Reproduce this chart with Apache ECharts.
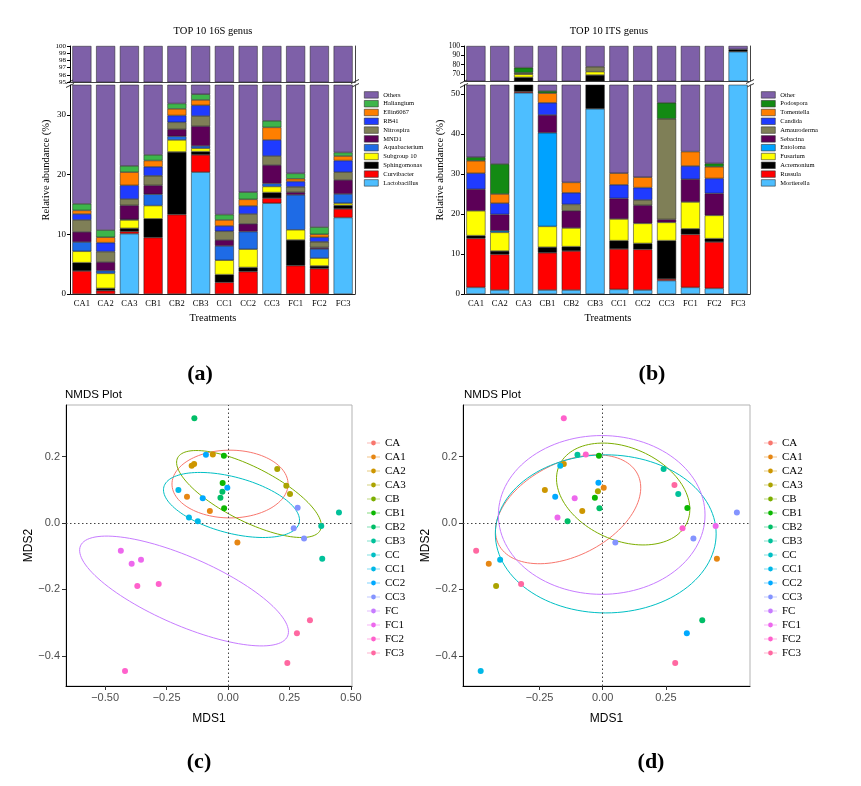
<!DOCTYPE html>
<html><head><meta charset="utf-8">
<script src="https://cdn.jsdelivr.net/npm/echarts@6/dist/echarts.min.js"></script>
<style>html,body{margin:0;padding:0;background:#fff}#main{width:861px;height:786px}</style>
</head><body><div id="main"></div>
<script>
// ---------------- DATA ----------------
const treatments = ['CA1','CA2','CA3','CB1','CB2','CB3','CC1','CC2','CC3','FC1','FC2','FC3'];

// 16S genera (relative abundance %, stacked bottom -> top)
const lactobacillus = [0, 0, 10.1, 0, 0, 20.4, 0, 0, 15.2, 0, 0, 12.8];
const curvibacter   = [3.85, 0.55, 0.35, 9.45, 13.3, 2.9, 1.95, 3.75, 0.85, 4.75, 4.25, 1.45];
const sphingomonas  = [1.4, 0.4, 0.55, 3.15, 10.5, 0.55, 1.3, 0.7, 0.95, 4.3, 0.45, 0.6];
const subgroup10    = [1.9, 2.5, 1.4, 2.2, 2.0, 0.55, 2.4, 3.05, 1.0, 1.7, 1.3, 0.35];
const aquabacterium = [1.55, 0.45, 0.1, 1.9, 0.6, 0.4, 2.4, 2.95, 0.5, 5.85, 1.55, 1.55];
const mnd1          = [1.7, 1.45, 2.35, 1.5, 1.2, 3.3, 1.0, 1.3, 3.1, 0.45, 0.25, 2.35];
const nitrospira    = [2.0, 1.75, 1.05, 1.6, 1.15, 1.7, 1.45, 1.65, 1.5, 0.9, 0.95, 1.3];
const rb41          = [1.0, 1.5, 2.3, 1.5, 1.15, 1.8, 0.9, 1.35, 2.7, 0.9, 0.75, 1.95];
const ellin6067     = [0.6, 0.9, 2.2, 1.05, 1.1, 0.9, 1.0, 1.1, 2.1, 0.45, 0.5, 0.75];
const haliangium    = [1.1, 1.2, 1.05, 0.95, 0.9, 0.95, 0.9, 1.2, 1.1, 0.9, 1.2, 0.6];
const others16S     = [84.9, 89.3, 78.55, 76.7, 68.1, 66.55, 86.7, 82.95, 71.0, 79.8, 88.8, 76.3];
const genera16S = ['Lactobacillus','Curvibacter','Sphingomonas','Subgroup 10','Aquabacterium','MND1','Nitrospira','RB41','Ellin6067','Haliangium','Others'];
const colors16S = ['#4DBEFF','#FF0000','#000000','#FFFF00','#1E6BE6','#5C0057','#7F7F57','#1F3BFF','#FF7F00','#3DB54A','#7E60A8'];

// ITS genera
const mortierella = [1.65, 1.0, 50.3, 1.0, 1.0, 46.3, 1.15, 1.0, 3.35, 1.65, 1.4, 93.9];
const russula     = [12.25, 8.9, 0.3, 9.3, 9.75, 0, 10.1, 10.15, 0.4, 13.25, 11.6, 0];
const acremonium  = [0.7, 0.85, 15.8, 1.4, 1.1, 22.6, 2.1, 1.5, 9.6, 1.4, 0.85, 2.5];
const fusarium    = [6.2, 4.65, 3.3, 5.2, 4.65, 3.6, 5.4, 5.0, 4.55, 6.7, 5.8, 0];
const entoloma    = [0, 0.4, 0, 23.4, 0, 0, 0, 0, 0, 0, 0, 0];
const sebacina    = [5.4, 4.1, 0, 4.45, 4.3, 0, 5.15, 4.55, 0.75, 5.7, 5.5, 0];
const amauroderma = [0, 0, 1.7, 0, 1.6, 5.3, 0, 1.3, 25.15, 0, 0, 0];
const candida     = [4.0, 2.8, 0, 3.05, 2.9, 0, 3.4, 3.1, 0, 3.3, 3.75, 0];
const tomentella  = [3.1, 2.3, 0, 2.4, 2.6, 0, 2.9, 2.6, 0, 3.6, 2.9, 0];
const podospora   = [0.9, 7.5, 5.4, 0.55, 0, 0, 0, 0, 4.0, 0, 0.85, 0];
const otherITS    = [65.8, 67.5, 23.2, 49.25, 72.1, 22.2, 69.8, 70.8, 52.2, 64.4, 67.35, 3.6];
const generaITS = ['Mortierella','Russula','Acremonium','Fusarium','Entoloma','Sebacina','Amauroderma','Candida','Tomentella','Podospora','Other'];
const colorsITS = ['#4DBEFF','#FF0000','#000000','#FFFF00','#00A2FF','#5C0057','#7F7F57','#1F3BFF','#FF7F00','#138A13','#7E60A8'];

// NMDS groups
const groupNames  = ['CA','CA1','CA2','CA3','CB','CB1','CB2','CB3','CC','CC1','CC2','CC3','FC','FC1','FC2','FC3'];
const groupColors = ['#F8766D','#E68613','#CD9600','#ABA300','#7CAE00','#0CB702','#00BE67','#00C19A','#00BFC4','#00B8E7','#00A9FF','#8494FF','#C77CFF','#ED68ED','#FF61CC','#FF68A1'];

// NMDS (c) points
const cGroup = ['CA1','CA1','CA1','CA2','CA2','CA2','CA3','CA3','CA3','CB1','CB1','CB1','CB2','CB2','CB2','CB3','CB3','CB3','CC1','CC1','CC1','CC2','CC2','CC2','CC3','CC3','CC3','FC1','FC1','FC1','FC2','FC2','FC2','FC3','FC3','FC3'];
const cX = [-0.167,-0.074,0.038, -0.062,-0.148,-0.138, 0.200,0.237,0.252, -0.017,-0.022,-0.016, -0.137,-0.023,-0.031, 0.451,0.379,0.383, -0.202,-0.159,-0.123, -0.090,-0.103,-0.003, 0.283,0.267,0.309, -0.436,-0.392,-0.354, -0.369,-0.282,-0.419, 0.333,0.280,0.241];
const cY = [0.079,0.036,-0.059, 0.206,0.172,0.177, 0.162,0.112,0.087, 0.202,0.120,0.044, 0.315,0.094,0.076, 0.031,-0.009,-0.108, 0.099,0.016,0.005, 0.205,0.074,0.106, 0.046,-0.016,-0.047, -0.084,-0.123,-0.111, -0.190,-0.184,-0.446, -0.293,-0.332,-0.422];
// NMDS (c) ellipses: centre + two conjugate semi-axis vectors
const ellGroups = ['CA','CB','CC','FC'];
const cEllCx = [0.008, 0.085, 0.014, -0.179];
const cEllCy = [0.117, 0.087, 0.054, -0.205];
const cEllUx = [0.236, 0.290, 0.275, 0.421];
const cEllUy = [0, -0.109, -0.0545, -0.136];
const cEllVx = [0, -0.050, -0.0295, -0.0553];
const cEllVy = [0.102, -0.0726, -0.0814, -0.094];

// NMDS (d) points
const dGroup = ['CA1','CA1','CA1','CA2','CA2','CA2','CA3','CA3','CB1','CB1','CB1','CB2','CB2','CB2','CB3','CB3','CB3','CC1','CC1','CC1','CC2','CC2','CC2','CC3','CC3','CC3','FC1','FC1','FC1','FC2','FC2','FC2','FC3','FC3','FC3','FC3'];
const dX = [0.004,0.452,-0.451, -0.154,-0.229,-0.081, -0.019,-0.422, -0.015,-0.031,0.335, -0.013,-0.139,0.394, -0.100,0.241,0.299, -0.168,-0.406,-0.483, -0.017,-0.188,0.333, 0.050,0.359,0.531, 0.447,-0.179,-0.111, -0.067,-0.154,0.316, 0.284,-0.501,-0.323,0.287];
const dY = [0.106,-0.108,-0.123, 0.177,0.099,0.036, 0.095,-0.190, 0.202,0.076,0.045, 0.044,0.005,-0.293, 0.205,0.162,0.087, 0.172,-0.111,-0.446, 0.121,0.079,-0.332, -0.059,-0.047,0.031, -0.009,0.016,0.074, 0.206,0.315,-0.016, 0.114,-0.084,-0.184,-0.422];
const dEllCx = [-0.137, 0.081, 0.012, -0.004];
const dEllCy = [0.041, 0.087, -0.033, 0.024];
const dEllUx = [0.275, 0.253, 0.437, 0.409];
const dEllUy = [0.106, -0.086, 0, 0];
const dEllVx = [0.084, -0.075, 0, 0];
const dEllVy = [-0.125, -0.127, 0.238, 0.239];

// tick values
const ticks16SUpper = [95,96,97,98,99,100];
const ticks16SLower = [0,10,20,30];
const ticksITSUpper = [70,80,90,100];
const ticksITSLower = [0,10,20,30,40,50];
const nmdsYTicks = [-0.4,-0.2,0,0.2];
const cXTicks = [-0.5,-0.25,0,0.25,0.5];
const dXTicks = [-0.25,0,0.25];

// ---------------- BUILD ----------------
const SERIF = '"Liberation Serif", "Times New Roman", serif';
const SANS = '"Liberation Sans", Arial, sans-serif';
const colorOf = g => groupColors[groupNames.indexOf(g)];
const fmt = (v, d) => (v < -1e-9 ? '\u2212' : '') + Math.abs(v).toFixed(d);

const vals16S = [lactobacillus,curvibacter,sphingomonas,subgroup10,aquabacterium,mnd1,nitrospira,rb41,ellin6067,haliangium,others16S];
const valsITS = [mortierella,russula,acremonium,fusarium,entoloma,sebacina,amauroderma,candida,tomentella,podospora,otherITS];

function barSeries(names, vals, colors, xi, yi, stack) {
  return names.map((n, i) => ({
    type: 'bar', name: n, stack: stack, xAxisIndex: xi, yAxisIndex: yi,
    data: vals[i].map(v => v > 0 ? v : null),
    barCategoryGap: '20%', clip: true,
    itemStyle: { color: colors[i], borderColor: '#1a1a1a', borderWidth: 0.5 },
    emphasis: { disabled: true }, z: 2
  }));
}
function scatterSeries(xs, ys, gs, xi, yi, withRef) {
  const out = [];
  groupNames.forEach((g, gi) => {
    const pts = [];
    gs.forEach((gg, k) => { if (gg === g) pts.push([xs[k], ys[k]]); });
    if (!pts.length) return;
    out.push({ type: 'scatter', name: g, xAxisIndex: xi, yAxisIndex: yi, data: pts,
      symbolSize: 6, itemStyle: { color: groupColors[gi], opacity: 1 }, z: 5, emphasis: { disabled: true } });
  });
  out[0].markLine = { silent: true, symbol: ['none','none'], label: { show: false },
    lineStyle: { type: [1.5, 2.5], color: '#444', width: 1 },
    data: [{ xAxis: 0 }, { yAxis: 0 }] };
  return out;
}
function ellipseSeries(cx, cy, ux, uy, vx, vy, xi, yi) {
  return ellGroups.map((g, i) => ({
    type: 'custom', name: g, xAxisIndex: xi, yAxisIndex: yi, z: 3,
    itemStyle: { color: colorOf(g) },
    data: [[cx[i], cy[i], ux[i], uy[i], vx[i], vy[i]]],
    encode: { x: 0, y: 1 },
    renderItem: (params, api) => {
      const c0 = api.value(0), c1 = api.value(1), u0 = api.value(2), u1 = api.value(3), v0 = api.value(4), v1 = api.value(5);
      const pts = [];
      for (let k = 0; k <= 120; k++) {
        const t = k / 120 * 2 * Math.PI;
        pts.push(api.coord([c0 + u0 * Math.cos(t) + v0 * Math.sin(t), c1 + u1 * Math.cos(t) + v1 * Math.sin(t)]));
      }
      return { type: 'polyline', shape: { points: pts }, style: { stroke: colorOf(g), fill: null, lineWidth: 1 } };
    }
  }));
}

const catAxis = (gi, pos, showLabels) => ({
  type: 'category', gridIndex: gi, data: treatments, position: pos,
  axisTick: { show: false },
  axisLabel: { show: showLabels, fontFamily: SERIF, fontSize: 8.5, color: '#000', margin: 5, interval: 0 },
  axisLine: { show: true, lineStyle: { color: pos === 'top' ? '#444' : '#222', width: 1 } },
  splitLine: { show: false }
});
const barValAxis = (gi, min, max, ticks, fs) => ({
  type: 'value', gridIndex: gi, min: min, max: max,
  axisLine: { show: true, lineStyle: { color: '#000', width: 1 } },
  axisTick: { show: true, length: 3, customValues: ticks, lineStyle: { color: '#000' } },
  axisLabel: { customValues: ticks, fontFamily: SERIF, fontSize: fs, color: '#000', margin: 4 },
  splitLine: { show: false }
});
const frameAxis = (gi) => ({
  type: 'value', gridIndex: gi, position: 'right', min: 0, max: 1,
  axisLine: { show: true, lineStyle: { color: '#444', width: 1 } },
  axisTick: { show: false }, axisLabel: { show: false }, splitLine: { show: false }
});
const nmdsX = (gi, min, max, ticks) => ({
  type: 'value', gridIndex: gi, min: min, max: max,
  axisLine: { onZero: false, lineStyle: { color: '#000', width: 1 } },
  axisTick: { customValues: ticks, length: 4, lineStyle: { color: '#333' } },
  axisLabel: { customValues: ticks, formatter: v => fmt(v, 2), fontFamily: SANS, fontSize: 11, color: '#4D4D4D', margin: 6 },
  splitLine: { show: false },
  name: 'MDS1', nameLocation: 'middle', nameGap: 27,
  nameTextStyle: { fontFamily: SANS, fontSize: 12, color: '#000' }
});
const nmdsY = (gi, min, max) => ({
  type: 'value', gridIndex: gi, min: min, max: max,
  axisLine: { onZero: false, lineStyle: { color: '#000', width: 1 } },
  axisTick: { customValues: nmdsYTicks, length: 4, lineStyle: { color: '#333' } },
  axisLabel: { customValues: nmdsYTicks, formatter: v => fmt(v, 1), fontFamily: SANS, fontSize: 11, color: '#4D4D4D', margin: 6 },
  splitLine: { show: false },
  name: 'MDS2', nameLocation: 'middle', nameGap: 31,
  nameTextStyle: { fontFamily: SANS, fontSize: 12, color: '#000' }
});

const nmdsIcon = 'path://M0,5.4H24V6.6H0Z M12,1.6A4.4,4.4,0,1,1,11.99,1.6Z';
const barLegend = (left, names) => ({
  orient: 'vertical', left: left, top: 90.5, padding: 0, itemGap: 0,
  itemWidth: 14, itemHeight: 6.5, icon: 'rect', selectedMode: false,
  itemStyle: { borderColor: '#333', borderWidth: 0.6 },
  textStyle: { fontFamily: SERIF, fontSize: 6.5, lineHeight: 8.8, color: '#000' },
  data: names.slice().reverse()
});
const nmdsLegend = (left) => ({
  orient: 'vertical', left: left, top: 436, padding: 0, itemGap: 0,
  itemWidth: 13, itemHeight: 6.5, icon: nmdsIcon, selectedMode: false,
  textStyle: { fontFamily: SERIF, fontSize: 11, lineHeight: 14, color: '#000' },
  data: groupNames
});

function txt(x, y, text, font, opts) {
  return Object.assign({ type: 'text', x: x, y: y, silent: true,
    style: { text: text, font: font, fill: '#000', align: 'center', verticalAlign: 'middle', textAlign: 'center', textVerticalAlign: 'middle' } }, opts || {});
}
function breakMarks(x) {
  const st = { stroke: '#333', lineWidth: 1 };
  return [
    { type: 'line', silent: true, shape: { x1: x - 4, y1: 83.5, x2: x + 4, y2: 79.5 }, style: st },
    { type: 'line', silent: true, shape: { x1: x - 4, y1: 87.5, x2: x + 4, y2: 83.5 }, style: st }
  ];
}

const option = {
  animation: false,
  backgroundColor: '#fff',
  grid: [
    { left: 70, top: 46, width: 285, height: 36 },
    { left: 70, top: 85, width: 285, height: 209 },
    { left: 464, top: 46, width: 286, height: 35 },
    { left: 464, top: 85, width: 286, height: 209 },
    { left: 66, top: 405, width: 286, height: 281, show: true, borderColor: '#b3b3b3', borderWidth: 1 },
    { left: 463, top: 405, width: 287, height: 281, show: true, borderColor: '#b3b3b3', borderWidth: 1 }
  ],
  xAxis: [
    catAxis(0, 'top', false), catAxis(1, 'bottom', true),
    catAxis(2, 'top', false), catAxis(3, 'bottom', true),
    nmdsX(4, -0.659, 0.504, cXTicks), nmdsX(5, -0.553, 0.583, dXTicks)
  ],
  yAxis: [
    barValAxis(0, 95, 100, ticks16SUpper, 7),
    barValAxis(1, 0, 35, ticks16SLower, 9),
    barValAxis(2, 62.5, 100, ticksITSUpper, 7.5),
    barValAxis(3, 0, 52.25, ticksITSLower, 9),
    nmdsY(4, -0.491, 0.355), nmdsY(5, -0.491, 0.355),
    frameAxis(0), frameAxis(1), frameAxis(2), frameAxis(3)
  ],
  legend: [
    barLegend(364, genera16S), barLegend(761, generaITS),
    nmdsLegend(367), nmdsLegend(764)
  ],
  series: [].concat(
    barSeries(genera16S, vals16S, colors16S, 0, 0, 'a_top'),
    barSeries(genera16S, vals16S, colors16S, 1, 1, 'a_bot'),
    barSeries(generaITS, valsITS, colorsITS, 2, 2, 'b_top'),
    barSeries(generaITS, valsITS, colorsITS, 3, 3, 'b_bot'),
    ellipseSeries(cEllCx, cEllCy, cEllUx, cEllUy, cEllVx, cEllVy, 4, 4),
    scatterSeries(cX, cY, cGroup, 4, 4),
    ellipseSeries(dEllCx, dEllCy, dEllUx, dEllUy, dEllVx, dEllVy, 5, 5),
    scatterSeries(dX, dY, dGroup, 5, 5)
  ),
  graphic: [].concat(
    [
      txt(213, 31, 'TOP 10 16S genus', '10.5px ' + SERIF),
      txt(609, 31, 'TOP 10 ITS genus', '10.5px ' + SERIF),
      txt(46, 170, 'Relative abundance (%)', '10.5px ' + SERIF, { rotation: Math.PI / 2 }),
      txt(440, 170, 'Relative abundance (%)', '10.5px ' + SERIF, { rotation: Math.PI / 2 }),
      txt(213, 318, 'Treatments', '10.5px ' + SERIF),
      txt(608, 318, 'Treatments', '10.5px ' + SERIF),
      txt(200, 374, '(a)', 'bold 22px ' + SERIF),
      txt(652, 374, '(b)', 'bold 22px ' + SERIF),
      txt(199, 762, '(c)', 'bold 22px ' + SERIF),
      txt(651, 762, '(d)', 'bold 22px ' + SERIF),
      { type: 'text', x: 65, y: 395, silent: true, style: { text: 'NMDS Plot', font: '11.5px ' + SANS, fill: '#000', align: 'left', verticalAlign: 'middle', textVerticalAlign: 'middle' } },
      { type: 'text', x: 464, y: 395, silent: true, style: { text: 'NMDS Plot', font: '11.5px ' + SANS, fill: '#000', align: 'left', verticalAlign: 'middle', textVerticalAlign: 'middle' } }
    ],
    breakMarks(70), breakMarks(355), breakMarks(464), breakMarks(750)
  )
};

const chart = echarts.init(document.getElementById('main'), null, { renderer: 'canvas' });
chart.setOption(option);
</script>
</body></html>
